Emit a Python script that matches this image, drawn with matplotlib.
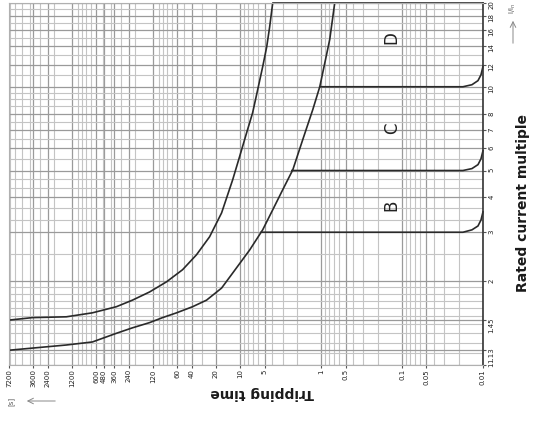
import matplotlib
matplotlib.use("Agg")
import matplotlib.pyplot as plt
from matplotlib.ticker import FixedLocator, LogLocator, NullFormatter

# tick labels
time_ticks = [7200, 3600, 2400, 1200, 600, 480, 360, 240, 120, 60, 40, 20, 10, 5, 1, 0.5, 0.1, 0.05, 0.01]
time_labels = ["7200", "3600", "2400", "1200", "600", "480", "360", "240", "120", "60", "40", "20",
               "10", "5", "1", "0.5", "0.1", "0.05", "0.01"]
current_ticks = [1, 1.13, 1.45, 2, 3, 4, 5, 6, 7, 8, 10, 12, 14, 16, 18, 20]
current_labels = ["1", "1.13", "1.45", "2", "3", "4", "5", "6", "7", "8", "10", "12", "14", "16", "18", "20"]
current_minor = [1.1, 1.2, 1.3, 1.4, 1.5, 1.6, 1.7, 1.8, 1.9, 2.5, 3.33, 3.67, 4.33, 4.67,
                 5.5, 6.5, 7.5, 8.5, 9, 9.5, 11, 13, 15, 17, 19]

# max tripping time curve (starts at 1.45 In)
max_t = [7200, 3710, 1409, 671, 339, 215, 132, 81.5, 51.6, 34.7, 23.9, 17.0, 12.4, 10.2, 8.34,
         7.03, 6.09, 5.28, 4.71, 4.33, 3.97]
max_i = [1.45, 1.48, 1.49, 1.54, 1.62, 1.71, 1.83, 1.99, 2.20, 2.49, 2.89, 3.52, 4.63, 5.60, 6.83,
         8.06, 9.75, 11.8, 13.9, 16.4, 20.0]

# min tripping time curve (starts at 1.13 In)
min_t = [7200, 3710, 1409, 671, 339, 215, 132, 91.2, 61.2, 38.8, 26.1, 17.0, 12.4, 7.65,
         5.28, 3.97, 2.99, 2.24, 1.69, 1.27, 1.04, 0.90, 0.783, 0.68]
min_i = [1.13, 1.15, 1.18, 1.21, 1.30, 1.36, 1.42, 1.48, 1.54, 1.62, 1.71, 1.89, 2.14, 2.59,
         3.06, 3.61, 4.26, 5.03, 6.45, 8.27, 10.0, 12.2, 14.8, 20.0]

# instantaneous release lines (B / C / D)
b_t = [5.5, 0.0177, 0.0137, 0.01153, 0.01059, 0.01]
b_i = [3.0, 3.0, 3.06, 3.16, 3.32, 3.55]
c_t = [2.3, 0.0177, 0.0137, 0.01153, 0.01059, 0.01]
c_i = [5.0, 5.0, 5.08, 5.25, 5.51, 5.89]
d_t = [1.04, 0.0177, 0.0137, 0.01153, 0.01059, 0.01]
d_i = [10.0, 10.0, 10.17, 10.52, 11.04, 11.84]
top_t = [3.97, 0.01]
top_i = [20.0, 20.0]

types = ["B", "C", "D"]
type_i = [3.76, 7.12, 15.0]
type_t = 0.134

fig = plt.figure(figsize=(5.35, 4.28), dpi=100)
ax = fig.add_axes([9 / 535, 63 / 428, 474 / 535, 362 / 428])
ax.set_xscale("log")
ax.set_yscale("log")
ax.set_xlim(7200, 0.01)
ax.set_ylim(1, 20)

ax.xaxis.set_major_locator(FixedLocator(time_ticks))
ax.set_xticklabels(time_labels)
ax.xaxis.set_minor_locator(LogLocator(base=10, subs=range(1, 10), numticks=30))
ax.xaxis.set_minor_formatter(NullFormatter())
ax.yaxis.set_major_locator(FixedLocator(current_ticks))
ax.set_yticklabels(current_labels)
ax.yaxis.set_minor_locator(FixedLocator(current_minor))
ax.yaxis.set_minor_formatter(NullFormatter())
ax.yaxis.tick_right()

ax.tick_params(axis="x", which="major", labelsize=5, rotation=90, length=2, pad=1,
               colors="#555555", labelcolor="#222222")
ax.tick_params(axis="y", which="major", labelsize=5, rotation=90, length=2, pad=2,
               colors="#555555", labelcolor="#222222")
ax.tick_params(which="minor", length=0)

ax.grid(which="major", color="#9a9a9a", linewidth=0.9)
ax.grid(which="minor", color="#c4c4c4", linewidth=0.8)
ax.set_axisbelow(True)

for side in ["top", "left", "bottom"]:
    ax.spines[side].set_color("#b0b0b0")
    ax.spines[side].set_linewidth(0.8)
ax.spines["right"].set_color("#333333")
ax.spines["right"].set_linewidth(1.2)

lc = "#2a2a2a"
ax.plot(max_t, max_i, color=lc, linewidth=1.2)
ax.plot(min_t, min_i, color=lc, linewidth=1.2)
for tt, ii in [(b_t, b_i), (c_t, c_i), (d_t, d_i), (top_t, top_i)]:
    ax.plot(tt, ii, color=lc, linewidth=1.2, clip_on=False)

for name, ii in zip(types, type_i):
    ax.text(type_t, ii, name, rotation=90, fontsize=12, color="#222222",
            ha="center", va="center")

fig.text(262 / 535, 1 - 393 / 428, "Tripping time", rotation=180, fontsize=10,
         fontweight="bold", ha="center", va="center", color="#1a1a1a")
fig.text(523 / 535, 1 - 203 / 428, "Rated current multiple", rotation=90, fontsize=10,
         fontweight="bold", ha="center", va="center", color="#1a1a1a")

# axis unit arrows
fig.text(11 / 535, 1 - 401 / 428, "[s]", rotation=90, fontsize=5, ha="center", va="center",
         color="#555555")
ax.annotate("", xy=(24 / 535, 1 - 401 / 428), xytext=(58 / 535, 1 - 401 / 428),
            xycoords="figure fraction", textcoords="figure fraction",
            arrowprops=dict(arrowstyle="->", color="#888888", lw=0.7))
fig.text(513 / 535, 1 - 8 / 428, "I/I$_n$", rotation=90, fontsize=5, ha="center", va="center",
         color="#555555")
ax.annotate("", xy=(513 / 535, 1 - 18 / 428), xytext=(513 / 535, 1 - 46 / 428),
            xycoords="figure fraction", textcoords="figure fraction",
            arrowprops=dict(arrowstyle="->", color="#888888", lw=0.7))

fig.savefig("out.png", dpi=100)
